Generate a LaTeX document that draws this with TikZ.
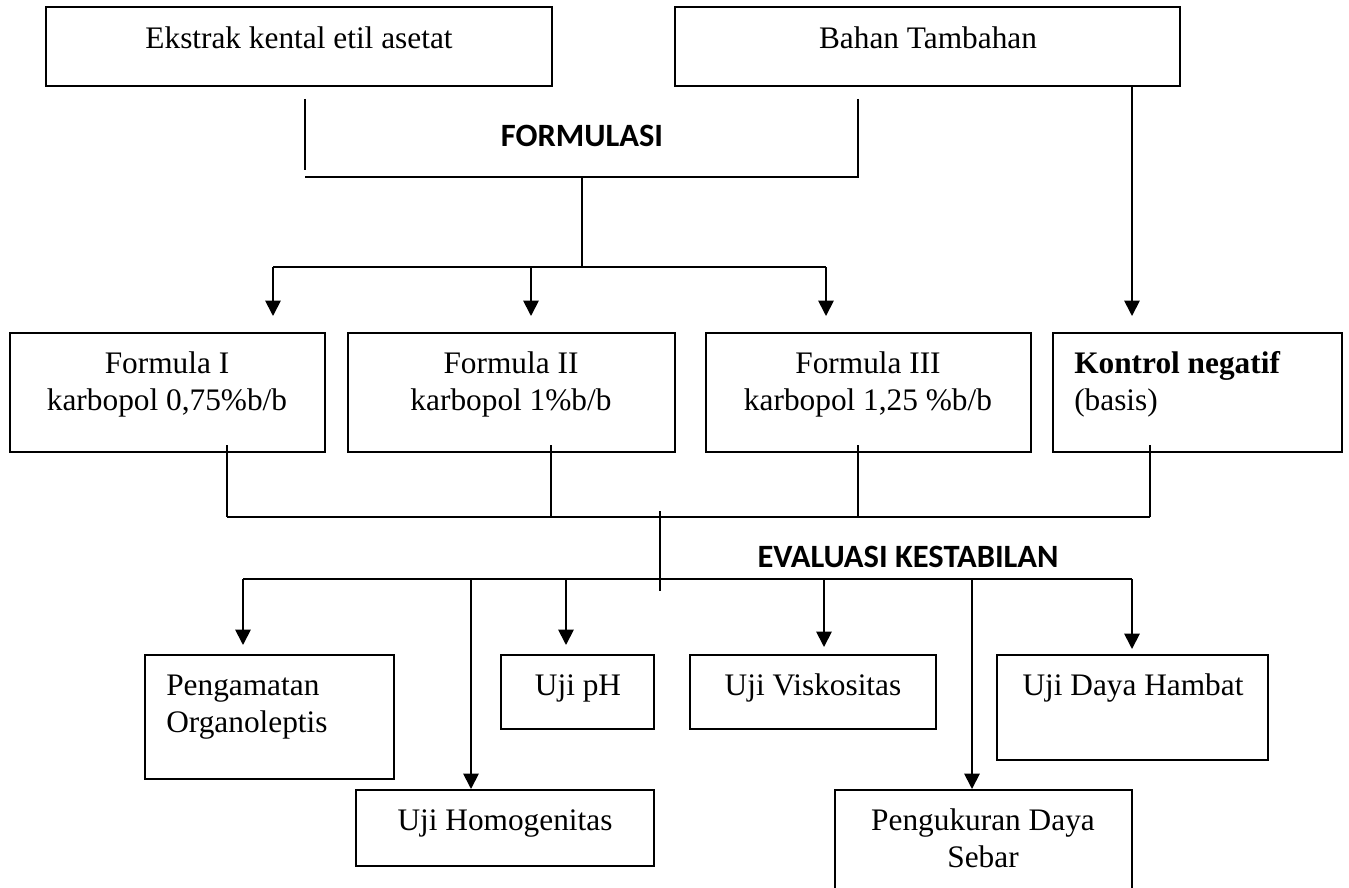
\documentclass[tikz,border=0pt]{standalone}
\usepackage{fontspec}
\setmainfont{Liberation Serif}
\newfontfamily\carlito{Carlito}
\usetikzlibrary{arrows.meta}
\begin{document}
\begin{tikzpicture}[x=0.75pt,y=-0.75pt,
  box/.style={draw, line width=1.45pt, inner sep=0pt, outer sep=0pt, anchor=north west},
  lbl/.style={font=\fontsize{23.5}{28}\selectfont, inner sep=0pt, anchor=base},
  lbll/.style={lbl, anchor=base west},
  head/.style={font=\carlito\bfseries\fontsize{24.4}{28}\selectfont, inner sep=0pt, anchor=base},
  ln/.style={line width=1.35pt},
  arr/.style={ln, -{Triangle[width=11.5pt,length=11.5pt]}}]
\useasboundingbox (0,0) rectangle (1349,888);

% boxes
\node[box, minimum width=506*0.75pt, minimum height=79*0.75pt] (ek) at (46,7) {};
\node[box, minimum width=505*0.75pt, minimum height=79*0.75pt] (ba) at (675,7) {};
\node[box, minimum width=315*0.75pt, minimum height=119*0.75pt] (f1) at (10,333) {};
\node[box, minimum width=327*0.75pt, minimum height=119*0.75pt] (f2) at (348,333) {};
\node[box, minimum width=325*0.75pt, minimum height=119*0.75pt] (f3) at (706,333) {};
\node[box, minimum width=289*0.75pt, minimum height=119*0.75pt] (ko) at (1053,333) {};
\node[box, minimum width=249*0.75pt, minimum height=124*0.75pt] (pe) at (145,655) {};
\node[box, minimum width=153*0.75pt, minimum height=74*0.75pt] (ph) at (501,655) {};
\node[box, minimum width=246*0.75pt, minimum height=74*0.75pt] (vi) at (690,655) {};
\node[box, minimum width=271*0.75pt, minimum height=105*0.75pt] (ha) at (997,655) {};
\node[box, minimum width=298*0.75pt, minimum height=76*0.75pt] (ho) at (356,790) {};
\node[box, minimum width=297*0.75pt, minimum height=105*0.75pt] (pk) at (835,790) {};

% texts
\node[lbl] (ekt) at (299,49) {Ekstrak kental etil asetat};
\node[lbl] (bat) at (928,49) {Bahan Tambahan};
\node[head] (formulasi) at (582,147) {FORMULASI};
\node[lbl] (f1a) at (167,373) {Formula I};
\node[lbl] (f1b) at (167,410) {karbopol 0,75\%b/b};
\node[lbl] (f2a) at (511,373) {Formula II};
\node[lbl] (f2b) at (511,410) {karbopol 1\%b/b};
\node[lbl] (f3a) at (868,373) {Formula III};
\node[lbl] (f3b) at (868,410) {karbopol 1,25 \%b/b};
\node[lbll] (koa) at (1074,373) {\textbf{Kontrol negatif}};
\node[lbll] (kob) at (1074,410) {(basis)};
\node[head] (evaluasi) at (908,567) {EVALUASI KESTABILAN};
\node[lbll] (pea) at (166,695) {Pengamatan};
\node[lbll] (peb) at (166,732) {Organoleptis};
\node[lbl] (pht) at (578,695) {Uji pH};
\node[lbl] (vit) at (813,695) {Uji Viskositas};
\node[lbl] (hat) at (1133,695) {Uji Daya Hambat};
\node[lbl] (hot) at (505,830) {Uji Homogenitas};
\node[lbl] (pka) at (983,830) {Pengukuran Daya};
\node[lbl] (pkb) at (983,867) {Sebar};

% FORMULASI bracket
\coordinate (bl) at (305,99);
\coordinate (blb) at (305,170);
\coordinate (bh1) at (305,177);
\coordinate (bh2) at (858,177);
\coordinate (br) at (858,99);
\draw[ln] (bl) -- (blb);
\draw[ln] (br) -- (bh2) -- (bh1);
\coordinate (st) at (582,177);
\coordinate (sj) at (582,267);
\draw[ln] (st) -- (sj);
\coordinate (a1) at (273,267);
\coordinate (a2) at (531,267);
\coordinate (a3) at (826,267);
\draw[ln] (a1) -- (a3);
\foreach \c/\n in {a1/f1,a2/f2,a3/f3}
  \draw[arr, shorten >=12.75pt] (\c) -- (\c |- \n.north);
\coordinate (bx) at (1132,86);
\draw[arr, shorten >=12.75pt] (bx |- ba.south) -- (bx |- ko.north);

% collect formulas
\coordinate (g1) at (227,517);
\coordinate (g2) at (551,517);
\coordinate (g3) at (858,517);
\coordinate (g4) at (1150,517);
\foreach \c/\n in {g1/f1,g2/f2,g3/f3,g4/ko}
  \draw[ln] ([yshift=5pt]\c |- \n.south) -- (\c);
\draw[ln] (g1) -- (g4);
\coordinate (v1) at (660,511);
\coordinate (v2) at (660,591);
\draw[ln] (v1) -- (v2);

% evaluation branches
\coordinate (h1) at (243,579);
\coordinate (h2) at (471,579);
\coordinate (h3) at (566,579);
\coordinate (h4) at (824,579);
\coordinate (h5) at (972,579);
\coordinate (h6) at (1132,579);
\draw[ln] (h1) -- (h6);
\draw[arr, shorten >=7.5pt] (h1) -- (h1 |- pe.north);
\draw[arr, shorten >=0.75pt] (h2) -- (h2 |- ho.north);
\draw[arr, shorten >=7.5pt] (h3) -- (h3 |- ph.north);
\draw[arr, shorten >=6pt] (h4) -- (h4 |- vi.north);
\draw[arr, shorten >=0.75pt] (h5) -- (h5 |- pk.north);
\draw[arr, shorten >=4.5pt] (h6) -- (h6 |- ha.north);
\end{tikzpicture}
\end{document}
